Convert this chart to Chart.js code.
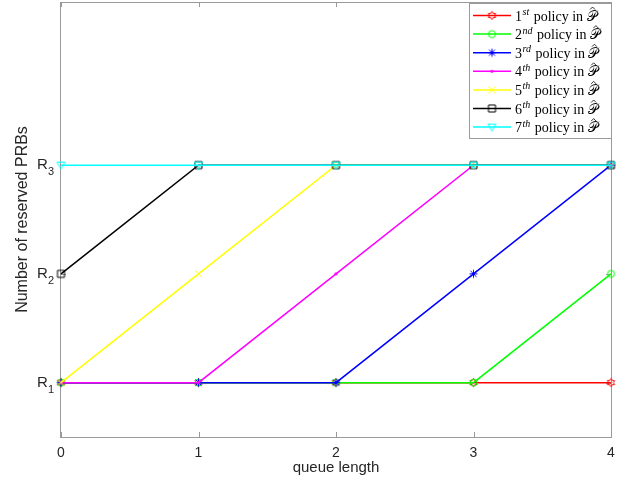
<!DOCTYPE html>
<html>
<head>
<meta charset="utf-8">
<script src="https://cdn.jsdelivr.net/npm/chart.js@4"></script>
<style>
html, body { margin: 0; padding: 0; background: #fff; }
</style>
</head>
<body>
<canvas id="myChart" width="625" height="487"></canvas>
<script>
// queue length on x, reserved PRB level (1 = R1, 2 = R2, 3 = R3) on y
var queueLengths = [0, 1, 2, 3, 4]
var policy1 = [1, 1, 1, 1, 1]
var policy2 = [1, 1, 1, 1, 2]
var policy3 = [1, 1, 1, 2, 3]
var policy4 = [1, 1, 2, 3, 3]
var policy5 = [1, 2, 3, 3, 3]
var policy6 = [2, 3, 3, 3, 3]
var policy7 = [3, 3, 3, 3, 3]

var xTicks = [0, 1, 2, 3, 4]
var yTicks = [1, 2, 3]
var yTickSubs = ['1', '2', '3']
var legendNums = ['1', '2', '3', '4', '5', '6', '7']
var legendSups = ['st', 'nd', 'rd', 'th', 'th', 'th', 'th']

var allPolicies = [policy1, policy2, policy3, policy4, policy5, policy6, policy7]
var colors = ['#ff0000', '#00ff00', '#0000ff', '#ff00ff', '#ffff00', '#000000', '#00ffff']
var markerTypes = ['hexagram', 'circle', 'star', 'dot', 'cross', 'square', 'triangleDown']

function makeMarker(type, color) {
  var c = document.createElement('canvas')
  c.width = 13
  c.height = 13
  var g = c.getContext('2d')
  g.translate(6.5, 6.5)
  g.strokeStyle = color
  g.fillStyle = color
  g.lineWidth = 1
  g.beginPath()
  if (type == 'hexagram') {
    for (var k = 0; k < 12; k++) {
      var r = k % 2 == 0 ? 4.2 : 2.4
      var a = -Math.PI / 2 + k * Math.PI / 6
      if (k == 0) g.moveTo(r * Math.cos(a), r * Math.sin(a))
      else g.lineTo(r * Math.cos(a), r * Math.sin(a))
    }
    g.closePath()
    g.stroke()
  } else if (type == 'circle') {
    g.arc(0, 0, 3.5, 0, Math.PI * 2)
    g.stroke()
  } else if (type == 'star') {
    g.moveTo(-4, 0); g.lineTo(4, 0)
    g.moveTo(0, -4); g.lineTo(0, 4)
    g.moveTo(-3, -3); g.lineTo(3, 3)
    g.moveTo(-3, 3); g.lineTo(3, -3)
    g.stroke()
  } else if (type == 'dot') {
    g.arc(0, 0, 1.6, 0, Math.PI * 2)
    g.fill()
  } else if (type == 'cross') {
    g.moveTo(-3.5, -3.5); g.lineTo(3.5, 3.5)
    g.moveTo(-3.5, 3.5); g.lineTo(3.5, -3.5)
    g.stroke()
  } else if (type == 'square') {
    g.rect(-3.5, -3.5, 7, 7)
    g.stroke()
  } else if (type == 'triangleDown') {
    g.moveTo(-4, -3); g.lineTo(4, -3); g.lineTo(0, 4); g.closePath()
    g.stroke()
  }
  return c
}

var markers = markerTypes.map((t, i) => makeMarker(t, colors[i]))

var datasets = allPolicies.map((values, i) => ({
  data: values.map((v, j) => ({ x: queueLengths[j], y: v })),
  borderColor: colors[i],
  backgroundColor: colors[i],
  borderWidth: 1.5,
  pointStyle: markers[i],
  pointRadius: 4,
  clip: false,
  order: 10 - i
}))

var textColor = '#262626'
var frameColor = '#9a9a9a'

var framePlugin = {
  id: 'frame',
  beforeDatasetsDraw(chart) {
    var ctx = chart.ctx
    var a = chart.chartArea
    var xs = chart.scales.x
    var ys = chart.scales.y
    ctx.save()
    ctx.strokeStyle = frameColor
    ctx.lineWidth = 1
    ctx.strokeRect(Math.round(a.left) - 0.5, Math.round(a.top) + 0.5, Math.round(a.right - a.left) + 1, Math.round(a.bottom - a.top))
    ctx.beginPath()
    xTicks.forEach(v => {
      var px = Math.round(xs.getPixelForValue(v)) + 0.5
      ctx.moveTo(px, a.bottom); ctx.lineTo(px, a.bottom - 5)
      ctx.moveTo(px, a.top); ctx.lineTo(px, a.top + 5)
    })
    yTicks.forEach(v => {
      var py = Math.round(ys.getPixelForValue(v)) + 0.5
      ctx.moveTo(a.left, py); ctx.lineTo(a.left + 5, py)
      ctx.moveTo(a.right, py); ctx.lineTo(a.right - 5, py)
    })
    ctx.stroke()
    // y tick labels R with subscripts
    ctx.fillStyle = textColor
    ctx.textBaseline = 'alphabetic'
    yTicks.forEach((v, i) => {
      var py = ys.getPixelForValue(v)
      ctx.font = '15px "Liberation Sans"'
      ctx.fillText('R', 37, py + 4)
      ctx.font = '11px "Liberation Sans"'
      ctx.fillText(yTickSubs[i], 48, py + 10)
    })
    ctx.restore()
  },
  afterDraw(chart) {
    var ctx = chart.ctx
    var lx = 469, ly = 3, lw = 142, lh = 135
    ctx.save()
    ctx.fillStyle = '#ffffff'
    ctx.fillRect(lx, ly, lw, lh)
    ctx.strokeStyle = frameColor
    ctx.lineWidth = 1
    ctx.strokeRect(lx + 0.5, ly + 0.5, lw, lh)
    for (var i = 0; i < legendNums.length; i++) {
      var y = 15.5 + i * 18.6
      ctx.strokeStyle = colors[i]
      ctx.lineWidth = 1.5
      ctx.beginPath()
      ctx.moveTo(473, y); ctx.lineTo(511, y)
      ctx.stroke()
      ctx.drawImage(markers[i], 492 - 6.5, y - 6.5)
      ctx.fillStyle = '#000'
      ctx.textBaseline = 'alphabetic'
      var tx = 515
      ctx.font = '14px "Liberation Serif"'
      ctx.fillText(legendNums[i], tx, y + 5)
      tx += ctx.measureText(legendNums[i]).width + 0.5
      ctx.font = 'italic 10px "Liberation Serif"'
      ctx.fillText(legendSups[i], tx, y - 0.5)
      tx += ctx.measureText(legendSups[i]).width + 1
      ctx.font = '14px "Liberation Serif"'
      ctx.fillText(' policy in ', tx, y + 5)
      tx += ctx.measureText(' policy in ').width
      ctx.font = '14px serif'
      ctx.fillText('\uD835\uDCAB', tx, y + 5)
      var pw = ctx.measureText('\uD835\uDCAB').width
      ctx.strokeStyle = '#000'
      ctx.lineWidth = 0.8
      ctx.beginPath()
      ctx.moveTo(tx + pw * 0.35, y - 6)
      ctx.lineTo(tx + pw * 0.6, y - 8.5)
      ctx.lineTo(tx + pw * 0.85, y - 6)
      ctx.stroke()
    }
    ctx.restore()
  }
}

var ctx = document.getElementById('myChart').getContext('2d')
var chart = new Chart(ctx, {
  type: 'line',
  data: { datasets: datasets },
  plugins: [framePlugin],
  options: {
    responsive: false,
    devicePixelRatio: 1,
    animation: false,
    layout: { autoPadding: false, padding: { top: 2, right: 14, left: 0, bottom: 0 } },
    plugins: { legend: { display: false }, tooltip: { enabled: false } },
    scales: {
      x: {
        type: 'linear',
        min: 0,
        max: 4,
        afterBuildTicks: s => { s.ticks = xTicks.map(v => ({ value: v })) },
        afterFit: s => { s.height = 50; s.paddingLeft = 0; s.paddingRight = 0 },
        grid: { display: false, drawTicks: false, tickLength: 0 },
        border: { display: false },
        ticks: { color: textColor, font: { family: 'Liberation Sans', size: 14 }, padding: 8, maxRotation: 0 },
        title: { display: true, text: 'queue length', color: textColor, font: { family: 'Liberation Sans', size: 15 }, padding: { top: 10, bottom: 10 } }
      },
      y: {
        type: 'linear',
        min: 0.5,
        max: 4.5,
        afterBuildTicks: s => { s.ticks = yTicks.map(v => ({ value: v })) },
        afterFit: s => { s.width = 61; s.paddingTop = 0; s.paddingBottom = 0 },
        grid: { display: false, drawTicks: false },
        border: { display: false },
        ticks: { display: false },
        title: { display: true, text: 'Number of reserved PRBs', color: textColor, font: { family: 'Liberation Sans', size: 16 }, padding: { top: 13, bottom: 13 } }
      }
    }
  }
})
</script>
</body>
</html>
